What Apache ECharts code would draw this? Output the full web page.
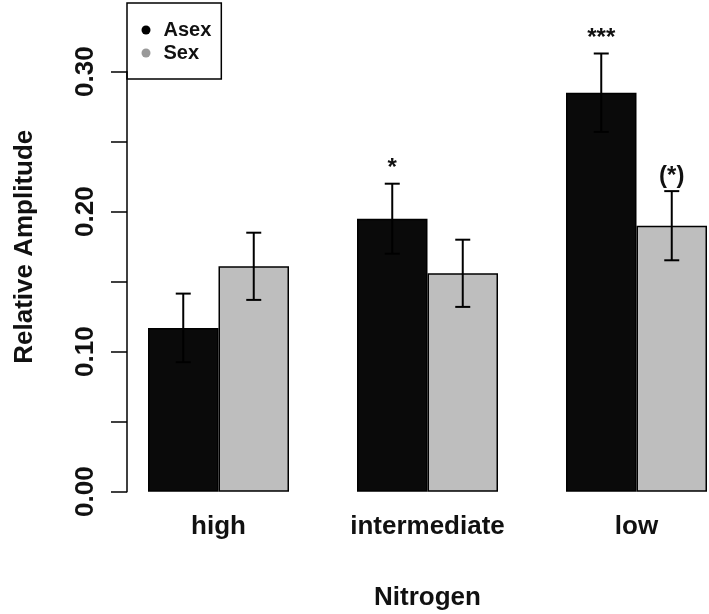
<!DOCTYPE html>
<html>
<head>
<meta charset="utf-8">
<script src="https://cdn.jsdelivr.net/npm/echarts@6/dist/echarts.min.js"></script>
<style>
html,body{margin:0;padding:0;background:#fff;}
#chart{width:709px;height:614px;}
</style>
</head>
<body>
<div id="chart"></div>
<script>
// data
var categories = ['high', 'intermediate', 'low'];
var asexMean = [0.117, 0.195, 0.285];
var sexMean = [0.161, 0.156, 0.190];
var asexSE = [0.0245, 0.025, 0.028];
var sexSE = [0.024, 0.024, 0.0247];
var asexSig = ['', '*', '***'];
var sexSig = ['', '', '(*)'];

var BAR_W = 70.5;
var FONT = 'Liberation Sans, Arial, sans-serif';

// error bars + significance marks, drawn on the bar scale
function errorSeries(name, mean, se, sig, side){
    var data = [];
    for (var i = 0; i < mean.length; i++) {
        data.push([i, mean[i] - se[i], mean[i] + se[i], sig[i]]);
    }
    return {
        name: name + ' err',
        type: 'custom',
        xAxisIndex: 0,
        yAxisIndex: 0,
        z: 10,
        silent: true,
        clip: false,
        data: data,
        renderItem: function(params, api){
            var lo = api.coord([api.value(0), api.value(1)]);
            var hi = api.coord([api.value(0), api.value(2)]);
            var x = lo[0] + side * BAR_W / 2;
            var cap = 7.5;
            var st = {stroke: '#000', lineWidth: 2};
            var label = data[params.dataIndex][3];
            var children = [
                {type: 'line', shape: {x1: x, y1: lo[1], x2: x, y2: hi[1]}, style: st},
                {type: 'line', shape: {x1: x - cap, y1: lo[1], x2: x + cap, y2: lo[1]}, style: st},
                {type: 'line', shape: {x1: x - cap, y1: hi[1], x2: x + cap, y2: hi[1]}, style: st}
            ];
            if (label) {
                children.push({
                    type: 'text',
                    style: {
                        x: x, y: hi[1] - 3, text: label,
                        textAlign: 'center', textVerticalAlign: 'bottom',
                        font: 'bold 24px ' + FONT, fill: '#111'
                    }
                });
            }
            return {type: 'group', children: children};
        }
    };
}

var chart = echarts.init(document.getElementById('chart'));

var option = {
    backgroundColor: '#fff',
    animation: false,
    legend: {
        orient: 'vertical',
        left: 127,
        top: 3,
        padding: [17, 10, 16, 14.5],
        itemGap: 3,
        itemWidth: 9,
        itemHeight: 9,
        icon: 'circle',
        borderColor: '#000',
        borderWidth: 1.5,
        textStyle: {fontFamily: FONT, fontWeight: 'bold', fontSize: 20, color: '#111', padding: [0, 0, 0, 8]},
        itemStyle: {borderWidth: 0},
        data: [
            {name: 'Asex', itemStyle: {color: '#000', borderWidth: 0}},
            {name: 'Sex', itemStyle: {color: '#999', borderWidth: 0}}
        ]
    },
    grid: [
        // data grid: category points sit on the bar-group centres
        {left: 218.5, top: 1.7, width: 418, height: 490, outerBoundsMode: 'none'},
        // grid only for the R style y axis (0 .. 0.30)
        {left: 127, top: 71.7, width: 500, height: 420, outerBoundsMode: 'none'}
    ],
    xAxis: [
        {
            type: 'category',
            gridIndex: 0,
            data: categories,
            boundaryGap: false,
            axisLine: {show: false},
            axisTick: {show: false},
            axisLabel: {
                interval: 0,
                margin: 22,
                fontFamily: FONT, fontWeight: 'bold', fontSize: 26, color: '#111'
            },
            name: 'Nitrogen',
            nameLocation: 'middle',
            nameGap: 93.5,
            nameTextStyle: {fontFamily: FONT, fontWeight: 'bold', fontSize: 26, color: '#111'}
        },
        {type: 'value', gridIndex: 1, show: false, min: 0, max: 1}
    ],
    yAxis: [
        {
            type: 'value',
            gridIndex: 0,
            min: 0,
            max: 0.35,
            axisLine: {show: false},
            axisTick: {show: false},
            axisLabel: {show: false},
            splitLine: {show: false},
            name: 'Relative Amplitude',
            nameLocation: 'middle',
            nameGap: 180.5,
            nameTextStyle: {fontFamily: FONT, fontWeight: 'bold', fontSize: 26, color: '#111'}
        },
        {
            type: 'value',
            gridIndex: 1,
            min: 0,
            max: 0.30,
            interval: 0.05,
            axisLine: {show: true, lineStyle: {color: '#000', width: 1.5}},
            axisTick: {show: true, length: 16, lineStyle: {color: '#000', width: 1.5}},
            axisLabel: {
                rotate: 90,
                margin: 28,
                fontFamily: FONT, fontWeight: 'bold', fontSize: 26, color: '#111',
                formatter: function(v){
                    return Math.round(v * 100) % 10 === 0 ? v.toFixed(2) : '';
                }
            },
            splitLine: {show: false}
        }
    ],
    series: [
        {
            name: 'Asex',
            type: 'bar',
            xAxisIndex: 0, yAxisIndex: 0,
            clip: false,
            barWidth: BAR_W,
            barGap: '0%',
            data: asexMean,
            itemStyle: {color: '#0a0a0a', borderColor: '#000', borderWidth: 1.5}
        },
        {
            name: 'Sex',
            type: 'bar',
            xAxisIndex: 0, yAxisIndex: 0,
            clip: false,
            barWidth: BAR_W,
            barGap: '0%',
            data: sexMean,
            itemStyle: {color: '#bebebe', borderColor: '#000', borderWidth: 1.5}
        },
        errorSeries('Asex', asexMean, asexSE, asexSig, -1),
        errorSeries('Sex', sexMean, sexSE, sexSig, 1)
    ]
};

chart.setOption(option);
</script>
</body>
</html>
